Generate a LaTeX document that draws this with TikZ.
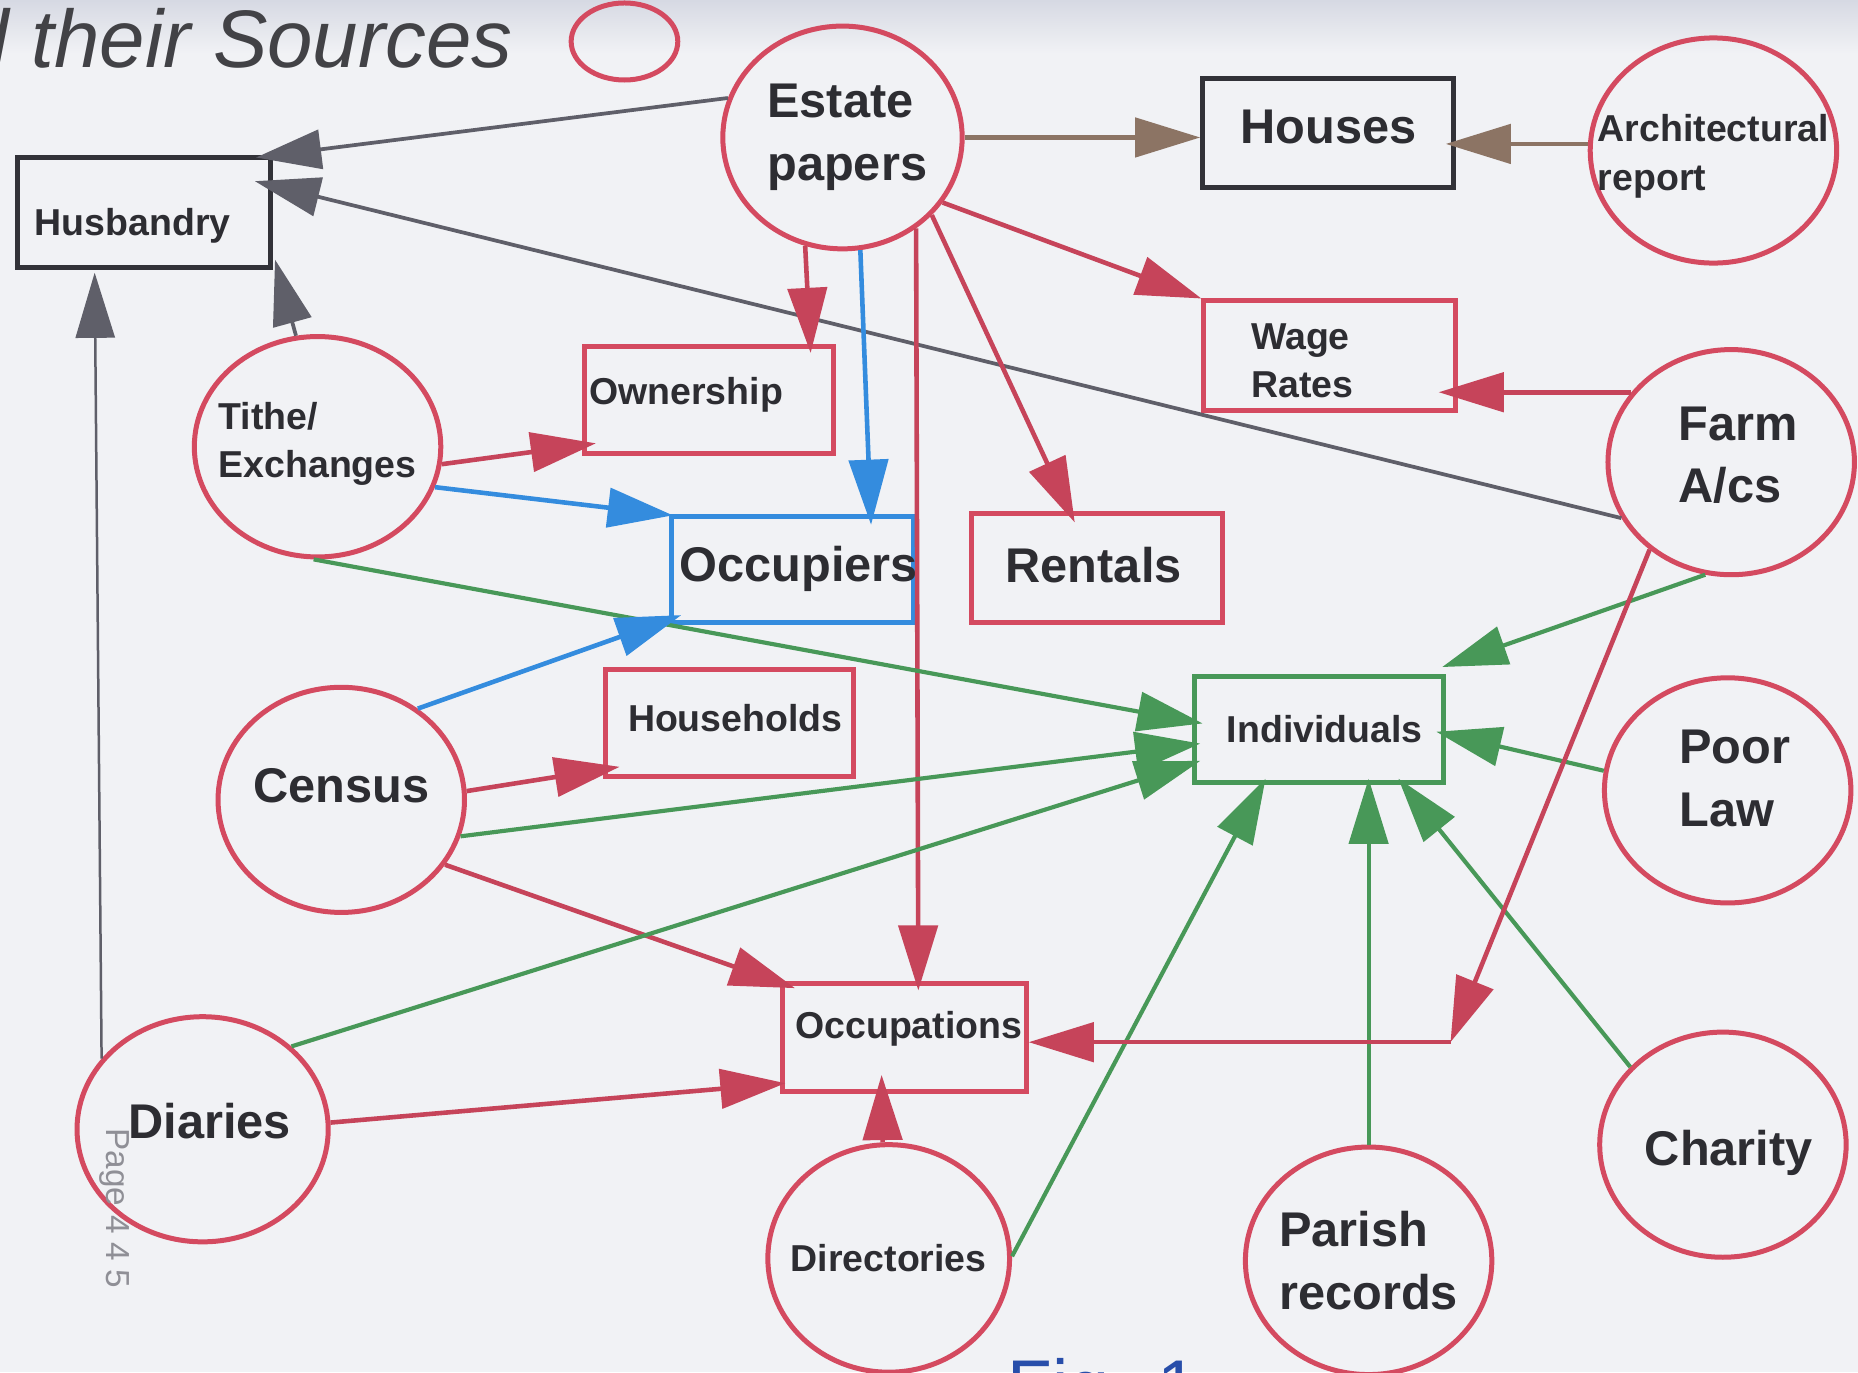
\documentclass[tikz,border=0pt]{standalone}
\usepackage{fontspec}
\setmainfont{Liberation Sans}
\usetikzlibrary{arrows.meta,shapes.geometric,calc}

\definecolor{paper}{RGB}{241,242,245}
\definecolor{papertop}{RGB}{214,217,227}
\definecolor{ink}{RGB}{45,45,50}
\definecolor{srcred}{RGB}{212,74,96}
\definecolor{linkred}{RGB}{198,68,90}
\definecolor{linkblue}{RGB}{52,140,222}
\definecolor{linkgreen}{RGB}{72,152,88}
\definecolor{linkgrey}{RGB}{95,95,105}
\definecolor{linkbrown}{RGB}{140,116,100}
\definecolor{boxblack}{RGB}{50,50,56}
\definecolor{figblue}{RGB}{40,78,170}

\begin{document}
\begin{tikzpicture}[x=0.1mm,y=-0.1mm,>={Triangle[length=5.5mm,width=3.3mm]},
  source/.style={ellipse,draw=srcred,line width=1.2pt,inner sep=0pt,
    minimum width=20.8mm,minimum height=19mm},
  big text/.style={font=\fontsize{11.7}{15}\selectfont\bfseries,text=ink,align=left},
  small text/.style={font=\fontsize{9}{11.7}\selectfont\bfseries,text=ink,align=left},
  topic/.style={rectangle,line width=1.2pt,inner sep=0pt,
    minimum width=21mm,minimum height=9.1mm},
  red link/.style={draw=linkred,line width=1.1pt},
  blue link/.style={draw=linkblue,line width=1.1pt},
  green link/.style={draw=linkgreen,line width=1pt},
  grey link/.style={draw=linkgrey,line width=0.9pt},
  brown link/.style={draw=linkbrown,line width=1.1pt}]

  \useasboundingbox (0,0) rectangle (1568,1158);
  \clip (0,0) rectangle (1568,1158);
  \fill[paper] (0,0) rectangle (1568,1158);
  \shade[top color=papertop,bottom color=paper] (0,0) rectangle (1568,45);

  % heading and key
  \node[anchor=base east,text=ink!90,font=\fontsize{19.6}{22}\selectfont\itshape]
    (heading) at (445,57) {and their Sources};
  \node[ellipse,draw=srcred,line width=1.2pt,inner sep=0pt,
    minimum width=9mm,minimum height=6.5mm] (key) at (527,35) {};

  % sources
  \node[source,minimum width=20.2mm,minimum height=18.8mm,
    label={[big text,xshift=0.4mm]center:Estate\\papers}] (estate) at (711,116) {};
  \node[source,label={[small text,yshift=-0.5mm]center:Architectural\\report}] (arch_report) at (1446,127) {};
  \node[source,minimum height=18.6mm,
    label={[small text,yshift=0.25mm]center:Tithe/\\Exchanges}] (tithe) at (268,377) {};
  \node[source,label={[big text,xshift=0.6mm,yshift=0.6mm]center:Farm\\A/cs}] (farm) at (1461,390) {};
  \node[source,label={[big text,yshift=1.2mm]center:Census}] (census) at (288,675) {};
  \node[source,label={[big text,xshift=0.6mm,yshift=1mm]center:Poor\\Law}] (poor_law) at (1458,667) {};
  \node[source,minimum width=21.2mm,label={[big text,xshift=0.6mm,yshift=0.7mm]center:Diaries}] (diaries) at (171,953) {};
  \node[source,label={[big text,xshift=0.5mm,yshift=-0.7mm]center:Charity}] (charity) at (1454,966) {};
  \node[source,minimum width=20.4mm,minimum height=19.2mm,
    label={[small text]center:Directories}] (directories) at (750,1062) {};
  \node[source,minimum height=19.2mm,label={[big text]center:Parish\\records}] (parish) at (1155,1064) {};

  % topics
  \node[topic,draw=boxblack,minimum width=21.3mm,minimum height=9.3mm,
    label={[small text,xshift=-0.95mm,yshift=-1.1mm]center:Husbandry}] (husbandry) at (121.5,179.5) {};
  \node[topic,draw=boxblack,minimum width=21.2mm,minimum height=9.2mm,
    label={[big text,yshift=0.5mm]center:Houses}] (houses) at (1121,112) {};
  \node[topic,draw=srcred,minimum width=21.2mm,minimum height=9.2mm,
    label={[small text,xshift=-2.3mm,yshift=-0.45mm]center:Wage\\Rates}] (wage_rates) at (1122,300) {};
  \node[topic,draw=srcred,
    label={[small text,xshift=-1.9mm,yshift=0.4mm]center:Ownership}] (ownership) at (598,337.5) {};
  \node[topic,draw=linkblue,minimum width=20.4mm,minimum height=8.9mm,
    label={[big text,xshift=0.5mm]center:Occupiers}] (occupiers) at (669,480.5) {};
  \node[topic,draw=srcred,minimum width=21.2mm,minimum height=9.2mm,
    label={[big text,xshift=-0.3mm,yshift=0.2mm]center:Rentals}] (rentals) at (926,479) {};
  \node[topic,draw=srcred,minimum width=20.9mm,minimum height=9mm,
    label={[small text,xshift=0.5mm,yshift=0.4mm]center:Households}] (households) at (615.5,610) {};
  \node[topic,draw=linkgreen,minimum height=8.9mm,
    label={[small text,xshift=0.5mm]center:Individuals}] (individuals) at (1113,615.5) {};
  \node[topic,draw=srcred,minimum width=20.6mm,
    label={[small text,xshift=0.4mm,yshift=0.7mm]center:Occupations}] (occupations) at (763,875.5) {};

  \coordinate (farm_bend) at ($(occupations.east)+(356,4)$);

  % links
  \path[->]
    (estate.161) edge[grey link] ($(husbandry.north east)+(-14,2)$)
    (farm.207) edge[grey link] ($(husbandry.north east)+(-15,22)$)
    (tithe.101) edge[grey link] ($(husbandry.south east)+(2,-9)$)
    (diaries.145) edge[grey link,line width=0.6pt] ($(husbandry.south west)+(67,2)$)
    (estate.east) edge[brown link] (estate.east -| houses.west)
    (arch_report.177) edge[brown link] ($(arch_report.177 -| houses.east)+(-9,0)$)
    (estate.-33) edge[red link] (wage_rates.north west)
    (farm.145) edge[red link] ($(farm.145 -| wage_rates.east)+(-16,0)$)
    (estate.251) edge[red link] ($(ownership.north east)+(-21,8)$)
    (estate.-81) edge[blue link] ($(occupiers.north east)+(-38,9)$)
    (estate.-51) edge[red link] ($(occupations.north)+(12,8)$)
    (estate.-41) edge[red link] ($(rentals.north)+(-19,10)$)
    (tithe.-8) edge[red link] ($(ownership.south west)+(12,-11)$)
    (tithe.-19) edge[blue link] ($(occupiers.north west)+(3,1)$)
    (tithe.268) edge[green link] ($(individuals.west)+(9,-5)$)
    (census.50) edge[blue link] ($(occupiers.south west)+(10,-8)$)
    (census.4) edge[red link] ($(households.south west)+(14,-10)$)
    (census.-17) edge[green link] ($(individuals.west)+(7,12)$)
    (census.-32) edge[red link] ($(occupations.north west)+(13,6)$)
    (diaries.43) edge[green link] ($(individuals.south west)+(7,-20)$)
    (diaries.3) edge[red link] ($(occupations.south west)+(5,-9)$)
    (directories.93) edge[red link] ($(occupations.south)+(-19,-16)$)
    (directories.1) edge[green link] ($(individuals.south)+(-45,-5)$)
    (parish.north) edge[green link] ($(parish.north |- individuals.south)+(0,-5)$)
    (charity.140) edge[green link] ($(individuals.south east)+(-40,-5)$)
    (poor_law.171) edge[green link] ($(individuals.east)+(-8,2)$)
    (farm.257) edge[green link] ($(individuals.north east)+(-3,-6)$)
    (farm.227) edge[red link] (farm_bend)
    (farm_bend) edge[red link] ($(occupations.east)+(0,4)$)
;

  % page margin and caption
  \node[rotate=-90,anchor=west,text=linkgrey!70,font=\fontsize{8}{9}\selectfont]
    (page_no) at (97,940) {Page {\addfontfeature{LetterSpace=25}445}};
  \node[anchor=base west,text=figblue,font=\fontsize{17.6}{20}\selectfont]
    (fig_caption) at (838,1191) {Fig. 1};
\end{tikzpicture}
\end{document}
